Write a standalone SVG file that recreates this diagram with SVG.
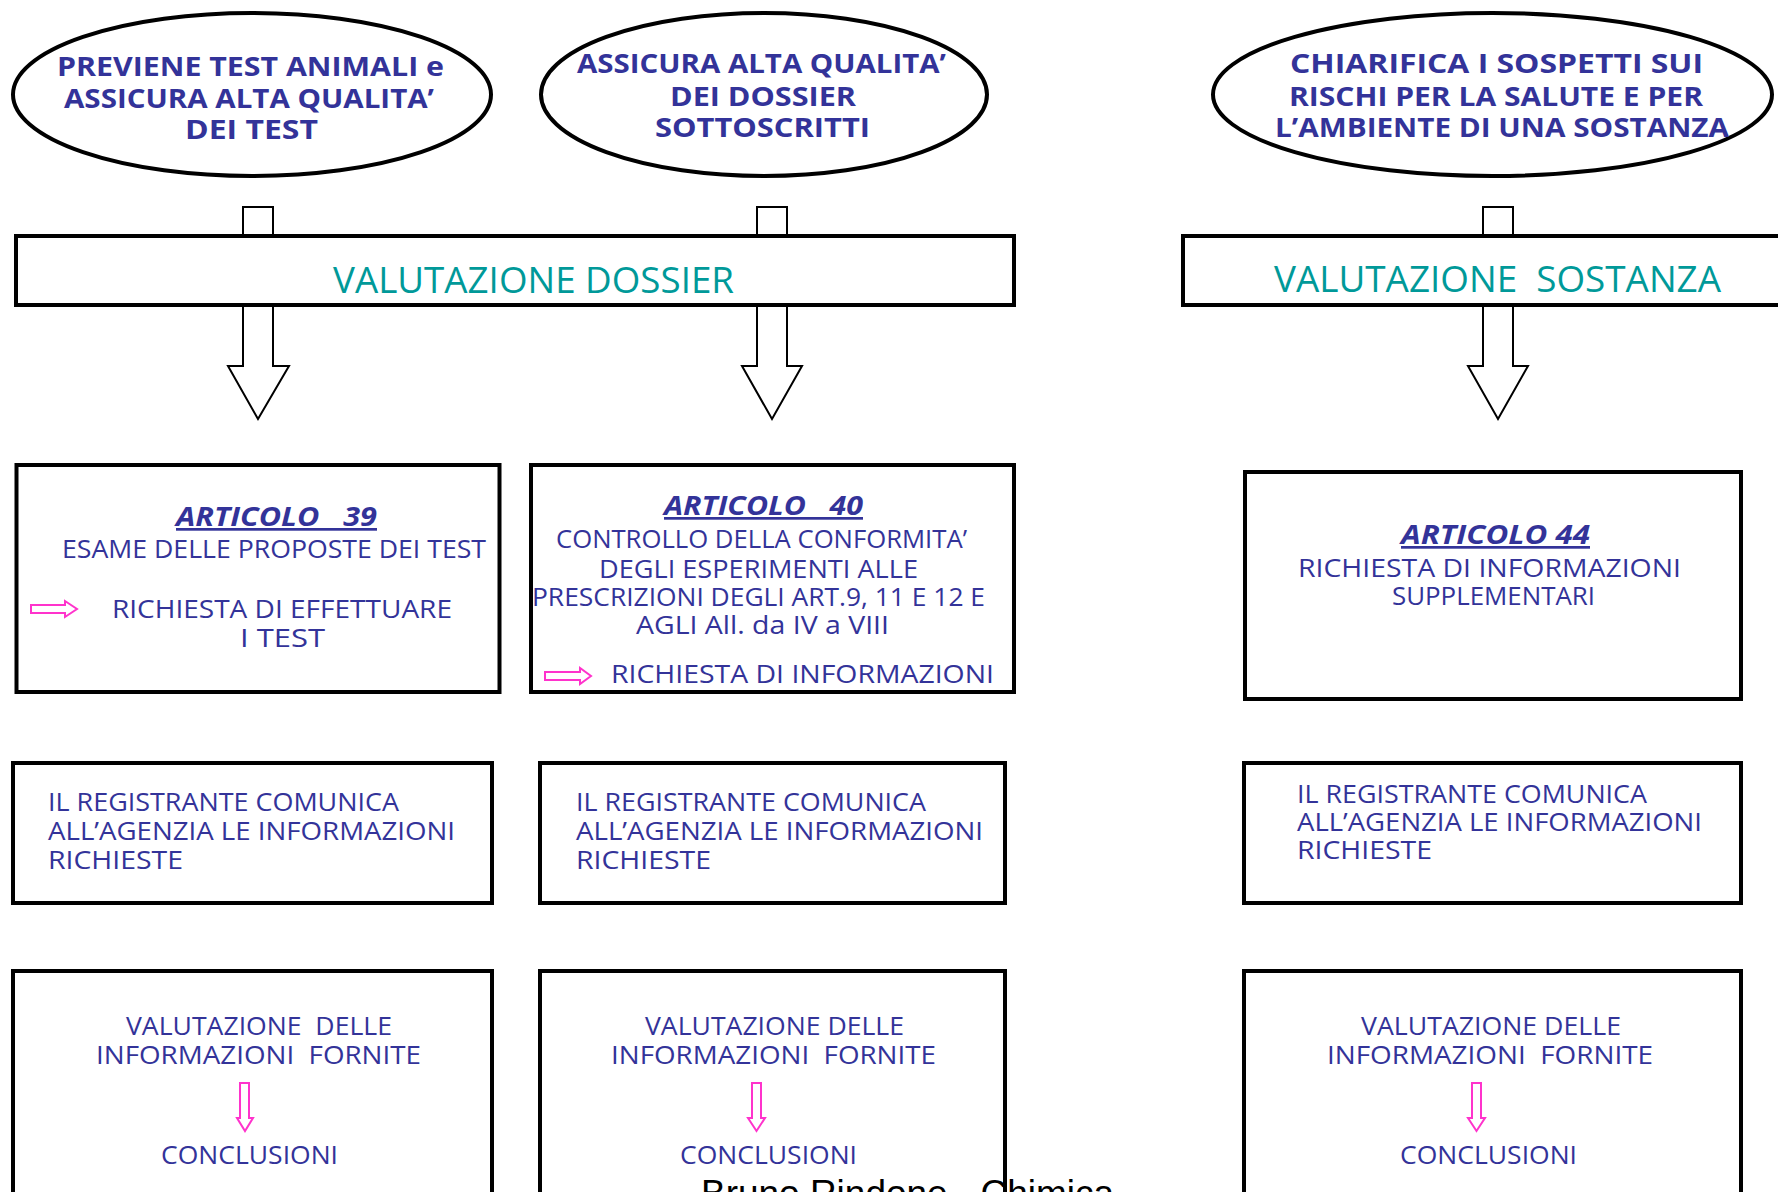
<svg xmlns="http://www.w3.org/2000/svg" width="1778" height="1192" viewBox="0 0 1778 1192">
<style>
.ell{fill:#fff;stroke:#000;stroke-width:4}
.box{fill:#fff;stroke:#000;stroke-width:4}
.blk{fill:#fff;stroke:#000;stroke-width:2}
.pink{fill:#fff;stroke:#ff33cc;stroke-width:2}
.t{font-family:"Comic Sans MS","Open Sans","Noto Sans",sans-serif;fill:#333399;white-space:pre}
.eb{font-size:27px;font-weight:bold}
.tb{font-size:25px}
.hd{font-size:27px;font-weight:bold;font-style:italic;text-decoration:underline}
.teal{font-family:"Comic Sans MS","Open Sans","Noto Sans",sans-serif;fill:#009999;font-size:36px;white-space:pre}
.foot{font-family:"Liberation Sans",Arial,sans-serif;font-size:37px;fill:#000}
</style>
<rect width="1778" height="1192" fill="#fff"/>
<g id="connectors">
<polygon class="blk" points="243,207 273,207 273,366 289,366 258,419 228,366 243,366"/>
<polygon class="blk" points="757,207 787,207 787,366 802,366 772,419 742,366 757,366"/>
<polygon class="blk" points="1483,207 1513,207 1513,366 1528,366 1498,419 1468,366 1483,366"/>
</g>
<g id="goal1">
<ellipse class="ell" cx="252" cy="94.5" rx="239" ry="81.5"/>
<text class="t eb" x="57" y="76" textLength="387" lengthAdjust="spacingAndGlyphs">PREVIENE TEST ANIMALI e</text>
<text class="t eb" x="64" y="108" textLength="370" lengthAdjust="spacingAndGlyphs">ASSICURA ALTA QUALITA’</text>
<text class="t eb" x="185" y="139" textLength="133" lengthAdjust="spacingAndGlyphs">DEI TEST</text>
</g>
<g id="goal2">
<ellipse class="ell" cx="764" cy="94.5" rx="223" ry="81.5"/>
<text class="t eb" x="577" y="73" textLength="369" lengthAdjust="spacingAndGlyphs">ASSICURA ALTA QUALITA’</text>
<text class="t eb" x="670" y="106" textLength="186" lengthAdjust="spacingAndGlyphs">DEI DOSSIER</text>
<text class="t eb" x="655" y="137" textLength="215" lengthAdjust="spacingAndGlyphs">SOTTOSCRITTI</text>
</g>
<g id="goal3">
<ellipse class="ell" cx="1492.5" cy="94.5" rx="279.5" ry="81.5"/>
<text class="t eb" x="1290" y="73" textLength="413" lengthAdjust="spacingAndGlyphs">CHIARIFICA I SOSPETTI SUI</text>
<text class="t eb" x="1289" y="106" textLength="414" lengthAdjust="spacingAndGlyphs">RISCHI PER LA SALUTE E PER</text>
<text class="t eb" x="1275" y="137" textLength="454" lengthAdjust="spacingAndGlyphs">L’AMBIENTE DI UNA SOSTANZA</text>
</g>
<g id="valutazione-dossier">
<rect class="box" x="16" y="236" width="998" height="69"/>
<text class="teal" x="333" y="293" textLength="401" lengthAdjust="spacingAndGlyphs">VALUTAZIONE DOSSIER</text>
</g>
<g id="valutazione-sostanza">
<rect class="box" x="1183" y="236" width="620" height="69"/>
<text class="teal" x="1274" y="292" textLength="447" lengthAdjust="spacingAndGlyphs">VALUTAZIONE  SOSTANZA</text>
</g>
<g id="art39">
<rect class="box" x="16.5" y="465" width="483" height="227"/>
<text class="t hd" x="176" y="526" textLength="201" lengthAdjust="spacingAndGlyphs">ARTICOLO   39</text>
<text class="t tb" x="62" y="558" textLength="424" lengthAdjust="spacingAndGlyphs">ESAME DELLE PROPOSTE DEI TEST</text>
<polygon class="pink" points="31,605 65,605 65,601 77,609 65,617 65,613 31,613"/>
<text class="t tb" x="112" y="618" textLength="340" lengthAdjust="spacingAndGlyphs">RICHIESTA DI EFFETTUARE</text>
<text class="t tb" x="240" y="647" textLength="85" lengthAdjust="spacingAndGlyphs">I TEST</text>
</g>
<g id="art40">
<rect class="box" x="531" y="465" width="483" height="227"/>
<text class="t hd" x="664" y="515" textLength="199" lengthAdjust="spacingAndGlyphs">ARTICOLO   40</text>
<text class="t tb" x="556" y="548" textLength="411" lengthAdjust="spacingAndGlyphs">CONTROLLO DELLA CONFORMITA’</text>
<text class="t tb" x="599" y="578" textLength="319" lengthAdjust="spacingAndGlyphs">DEGLI ESPERIMENTI ALLE</text>
<text class="t tb" x="532" y="606" textLength="453" lengthAdjust="spacingAndGlyphs">PRESCRIZIONI DEGLI ART.9, 11 E 12 E</text>
<text class="t tb" x="636" y="634" textLength="253" lengthAdjust="spacingAndGlyphs">AGLI All. da IV a VIII</text>
<polygon class="pink" points="545,672 580,672 580,668 591,676 580,684 580,680 545,680"/>
<text class="t tb" x="611" y="683" textLength="383" lengthAdjust="spacingAndGlyphs">RICHIESTA DI INFORMAZIONI</text>
</g>
<g id="art44">
<rect class="box" x="1245" y="472" width="496" height="227"/>
<text class="t hd" x="1401" y="544" textLength="189" lengthAdjust="spacingAndGlyphs">ARTICOLO 44</text>
<text class="t tb" x="1298" y="577" textLength="383" lengthAdjust="spacingAndGlyphs">RICHIESTA DI INFORMAZIONI</text>
<text class="t tb" x="1392" y="605" textLength="203" lengthAdjust="spacingAndGlyphs">SUPPLEMENTARI</text>
</g>
<g id="registrante1">
<rect class="box" x="13" y="763" width="479" height="140"/>
<text class="t tb" x="48" y="811" textLength="351" lengthAdjust="spacingAndGlyphs">IL REGISTRANTE COMUNICA</text>
<text class="t tb" x="48" y="840" textLength="407" lengthAdjust="spacingAndGlyphs">ALL’AGENZIA LE INFORMAZIONI</text>
<text class="t tb" x="48" y="869" textLength="135" lengthAdjust="spacingAndGlyphs">RICHIESTE</text>
</g>
<g id="registrante2">
<rect class="box" x="540" y="763" width="465" height="140"/>
<text class="t tb" x="576" y="811" textLength="350" lengthAdjust="spacingAndGlyphs">IL REGISTRANTE COMUNICA</text>
<text class="t tb" x="576" y="840" textLength="407" lengthAdjust="spacingAndGlyphs">ALL’AGENZIA LE INFORMAZIONI</text>
<text class="t tb" x="576" y="869" textLength="135" lengthAdjust="spacingAndGlyphs">RICHIESTE</text>
</g>
<g id="registrante3">
<rect class="box" x="1244" y="763" width="497" height="140"/>
<text class="t tb" x="1297" y="803" textLength="350" lengthAdjust="spacingAndGlyphs">IL REGISTRANTE COMUNICA</text>
<text class="t tb" x="1297" y="831" textLength="405" lengthAdjust="spacingAndGlyphs">ALL’AGENZIA LE INFORMAZIONI</text>
<text class="t tb" x="1297" y="859" textLength="135" lengthAdjust="spacingAndGlyphs">RICHIESTE</text>
</g>
<g id="conclusioni1">
<rect class="box" x="13" y="971" width="479" height="260"/>
<text class="t tb" x="126" y="1035" textLength="266" lengthAdjust="spacingAndGlyphs">VALUTAZIONE  DELLE</text>
<text class="t tb" x="96" y="1064" textLength="325" lengthAdjust="spacingAndGlyphs">INFORMAZIONI  FORNITE</text>
<polygon class="pink" points="240,1083 249,1083 249,1118 253,1118 245,1131 237,1118 240,1118"/>
<text class="t tb" x="161" y="1164" textLength="177" lengthAdjust="spacingAndGlyphs">CONCLUSIONI</text>
</g>
<g id="conclusioni2">
<rect class="box" x="540" y="971" width="465" height="260"/>
<text class="t tb" x="645" y="1035" textLength="259" lengthAdjust="spacingAndGlyphs">VALUTAZIONE DELLE</text>
<text class="t tb" x="611" y="1064" textLength="325" lengthAdjust="spacingAndGlyphs">INFORMAZIONI  FORNITE</text>
<polygon class="pink" points="752,1083 761,1083 761,1118 765,1118 756.5,1131 748,1118 752,1118"/>
<text class="t tb" x="680" y="1164" textLength="177" lengthAdjust="spacingAndGlyphs">CONCLUSIONI</text>
</g>
<g id="conclusioni3">
<rect class="box" x="1244" y="971" width="497" height="260"/>
<text class="t tb" x="1361" y="1035" textLength="260" lengthAdjust="spacingAndGlyphs">VALUTAZIONE DELLE</text>
<text class="t tb" x="1327" y="1064" textLength="326" lengthAdjust="spacingAndGlyphs">INFORMAZIONI  FORNITE</text>
<polygon class="pink" points="1472,1083 1481,1083 1481,1118 1485,1118 1476.5,1131 1468,1118 1472,1118"/>
<text class="t tb" x="1400" y="1164" textLength="177" lengthAdjust="spacingAndGlyphs">CONCLUSIONI</text>
</g>
<g id="footer">
<text class="foot" x="701" y="1206" textLength="413" lengthAdjust="spacingAndGlyphs">Bruno Rindone - Chimica</text>
</g>
</svg>
